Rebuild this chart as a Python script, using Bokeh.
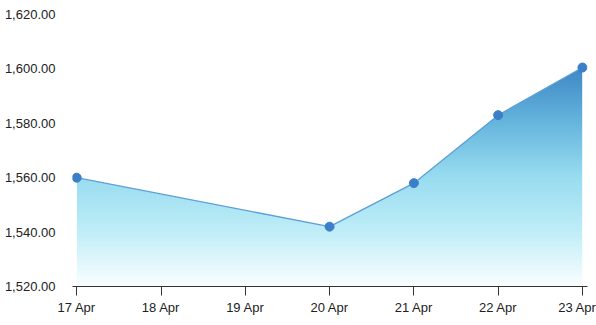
import numpy as np
import pandas as pd
from bokeh.plotting import figure
from bokeh.models import NumeralTickFormatter, FixedTicker, CustomJSTickFormatter, Range1d
from bokeh.embed import file_html
from bokeh.resources import INLINE

# data
dates = ["2024-04-17", "2024-04-20", "2024-04-21", "2024-04-22", "2024-04-23"]
values = [1560.0, 1542.0, 1558.0, 1583.0, 1600.5]
tick_dates = ["2024-04-17", "2024-04-18", "2024-04-19", "2024-04-20",
              "2024-04-21", "2024-04-22", "2024-04-23"]
y_ticks = [1520, 1540, 1560, 1580, 1600, 1620]

xs = pd.to_datetime(dates).astype("int64") // 10**6
xs = np.array(xs, dtype=float)
tx = np.array(pd.to_datetime(tick_dates).astype("int64") // 10**6, dtype=float)
day = 86400000.0

p = figure(width=596, height=325, output_backend="svg", toolbar_location=None,
           x_range=Range1d(xs[0] - 0.05 * day, xs[-1] + 0.06 * day),
           y_range=Range1d(1520, 1620),
           min_border_left=72, min_border_right=9, min_border_top=14,
           min_border_bottom=39)
p.outline_line_color = None
p.grid.visible = False
p.background_fill_color = "white"

# gradient fill via image + white mask above the curve
stops_t = [0.0, 0.25, 0.5, 0.75, 1.0]
stops_c = [(250, 254, 255), (192, 238, 248), (152, 220, 240), (101, 181, 221), (63, 136, 198)]
n = 200
t = np.linspace(0, 1, n)
img = np.zeros((n, 2), dtype=np.uint32)
view = img.view(dtype=np.uint8).reshape((n, 2, 4))
for ch in range(3):
    col = np.interp(t, stops_t, [c[ch] for c in stops_c])
    view[:, :, ch] = col[:, None].astype(np.uint8)
view[:, :, 3] = 255
ymin = 1520
ymax = max(values)
p.image_rgba(image=[img], x=xs[0], y=ymin, dw=xs[-1] - xs[0], dh=ymax - ymin)
pad = 0.04 * day
mask_x = np.concatenate([[xs[0] - pad], xs, [xs[-1] + pad]])
mask_y = np.concatenate([[values[0]], values, [values[-1]]])
p.varea(x=mask_x, y1=mask_y, y2=[1620] * len(mask_x), fill_color="white")
p.varea(x=[xs[0] - pad, xs[0]], y1=[1520, 1520], y2=[1620, 1620], fill_color="white")
p.varea(x=[xs[-1], xs[-1] + pad], y1=[1520, 1520], y2=[1620, 1620], fill_color="white")

p.line(xs, values, line_color="#5b9fd8", line_width=1.3)
p.scatter(xs, values, size=9, fill_color="#3b7fc8", line_color="#3b7fc8")

# axes
p.xaxis.ticker = FixedTicker(ticks=list(tx))
p.xaxis.formatter = CustomJSTickFormatter(code="""
const d = new Date(tick);
const m = ["Jan","Feb","Mar","Apr","May","Jun","Jul","Aug","Sep","Oct","Nov","Dec"];
return d.getUTCDate() + " " + m[d.getUTCMonth()];
""")
p.xaxis.axis_line_color = "#333333"
p.xaxis.axis_line_width = 1
p.xaxis.major_tick_line_color = "#333333"
p.xaxis.major_tick_out = 9
p.xaxis.major_tick_in = 0
p.xaxis.minor_tick_line_color = None
p.xaxis.major_label_standoff = 4
p.xaxis.major_label_text_font = "Liberation Sans"
p.xaxis.major_label_text_font_size = "13px"
p.xaxis.major_label_text_color = "#222222"

p.yaxis.ticker = FixedTicker(ticks=y_ticks)
p.yaxis.formatter = NumeralTickFormatter(format="0,0.00")
p.yaxis.axis_line_color = None
p.yaxis.major_tick_line_color = None
p.yaxis.minor_tick_line_color = None
p.yaxis.major_label_standoff = 11
p.yaxis.major_label_text_font = "Liberation Sans"
p.yaxis.major_label_text_font_size = "13px"
p.yaxis.major_label_text_color = "#222222"

open("out.html", "w").write(file_html(p, INLINE))
